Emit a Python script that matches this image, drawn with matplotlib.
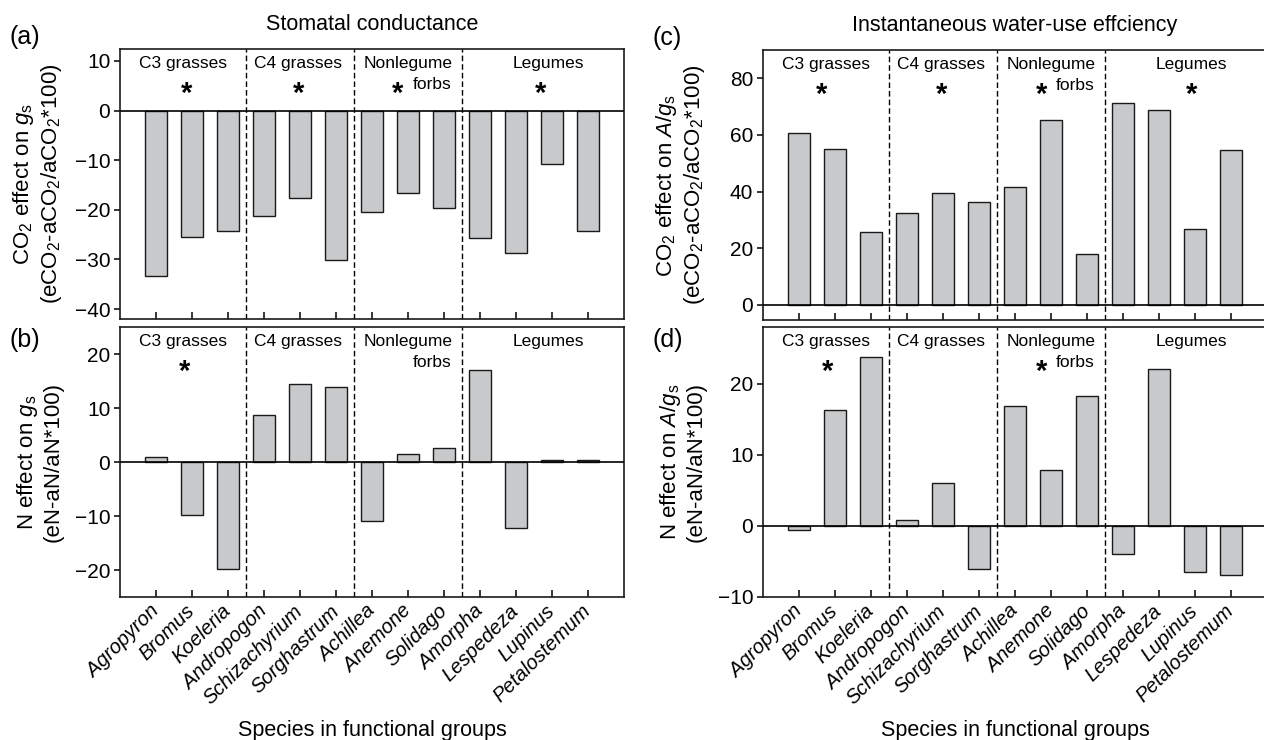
import numpy as np
import matplotlib
matplotlib.use('Agg')
import matplotlib.pyplot as plt

plt.rcParams['font.family'] = ['Liberation Sans', 'DejaVu Sans']
plt.rcParams['mathtext.fontset'] = 'custom'
plt.rcParams['mathtext.rm'] = 'Liberation Sans'
plt.rcParams['mathtext.it'] = 'Liberation Sans:italic'

species = ['Agropyron', 'Bromus', 'Koeleria', 'Andropogon', 'Schizachyrium',
           'Sorghastrum', 'Achillea', 'Anemone', 'Solidago', 'Amorpha',
           'Lespedeza', 'Lupinus', 'Petalostemum']

# CO2 and N effects (%)
co2_gs = [-33.4, -25.5, -24.2, -21.3, -17.7, -30.2, -20.5, -16.6, -19.7,
          -25.7, -28.7, -10.8, -24.2]
n_gs = [1.0, -9.85, -19.8, 8.7, 14.5, 13.9, -11.0, 1.55, 2.65,
        17.0, -12.3, 0.3, 0.4]
co2_wue = [60.6, 55.0, 25.6, 32.6, 39.5, 36.4, 41.6, 65.3, 18.1,
           71.4, 68.9, 26.8, 54.6]
n_wue = [-0.56, 16.3, 23.8, 0.84, 6.0, -6.0, 16.9, 7.85, 18.3,
         -3.9, 22.06, -6.5, -6.9]

groups = ['C3 grasses', 'C4 grasses', 'Nonlegume', 'Legumes']
group_x = [0.75, 3.95, 7.0, 10.9]
group_bounds = [2.5, 5.5, 8.5]

stars_a = [0.86, 3.97, 6.72, 10.67]
stars_b = [0.8]
stars_c = [0.62, 3.97, 6.73, 10.9]
stars_d = [0.8, 6.75]

fig = plt.figure(figsize=(12.64, 7.40), dpi=100)
W, H = 1264., 740.


def make_ax(left, top):
    return fig.add_axes([left / W, 1 - (top + 270) / H, 504 / W, 270 / H])


ax_a = make_ax(120, 49)
ax_b = make_ax(120, 327)
ax_c = make_ax(763, 50)
ax_d = make_ax(763, 327)

x = np.arange(len(species))


def panel(ax, vals, ylim, yticks, stars, ylabel, letter, bottom):
    ax.bar(x, vals, width=0.61, color='#c8c9cb', edgecolor='#1a1a1a',
           linewidth=1.0, zorder=2)
    ax.axhline(0, color='black', lw=1.2, zorder=3)
    for b in group_bounds:
        ax.axvline(b, color='black', lw=1.0, ls=(0, (4, 2.2)), zorder=1)
    ax.set_xlim(-1, 13)
    ax.set_ylim(*ylim)
    ax.set_yticks(yticks)
    ax.set_xticks(x)
    for s in ax.spines.values():
        s.set_linewidth(1.2)
        s.set_color('#1a1a1a')
    ax.tick_params(axis='y', direction='out', length=4, width=1.1,
                   labelsize=15, pad=3)
    ax.tick_params(axis='x', direction='in', length=5, width=1.1,
                   top=False)
    if bottom:
        ax.set_xticklabels(species, rotation=45, ha='right', va='center',
                           rotation_mode='anchor', fontsize=14.5,
                           fontstyle='italic')
        ax.tick_params(axis='x', pad=8)
        ax.set_xlabel('Species in functional groups', fontsize=15.5)
        ax.xaxis.set_label_coords(0.5, -0.455)
    else:
        ax.set_xticklabels([])
    for g, gx in zip(groups, group_x):
        ax.text(gx, 0.945, g, transform=ax.get_xaxis_transform(),
                ha='center', va='center', fontsize=12.5)
    ax.text(8.2, 0.87, 'forbs', transform=ax.get_xaxis_transform(),
            ha='right', va='center', fontsize=12.5)
    for sx in stars:
        ax.annotate('*', (sx, 0.86), xycoords=('data', 'axes fraction'),
                    xytext=(0, -11), textcoords='offset points',
                    ha='center', va='baseline', fontsize=21,
                    fontweight='bold')
    ax.set_ylabel(ylabel, fontsize=16, linespacing=1.15)
    ax.yaxis.set_label_coords(-0.112, 0.5)
    ax.text(-0.22, 1.0 + 12 / 270 if not bottom else 0.95, letter,
            transform=ax.transAxes, ha='left', va='center', fontsize=18)


panel(ax_a, co2_gs, (-42, 12.4), [-40, -30, -20, -10, 0, 10], stars_a,
      'CO$_2$ effect on $g_\\mathrm{s}$\n(eCO$_2$-aCO$_2$/aCO$_2$*100)',
      '(a)', False)
panel(ax_b, n_gs, (-25, 25), [-20, -10, 0, 10, 20], stars_b,
      'N effect on $g_\\mathrm{s}$\n(eN-aN/aN*100)', '(b)', True)
panel(ax_c, co2_wue, (-5.3, 90), [0, 20, 40, 60, 80], stars_c,
      'CO$_2$ effect on $A/g_\\mathrm{s}$\n(eCO$_2$-aCO$_2$/aCO$_2$*100)',
      '(c)', False)
panel(ax_d, n_wue, (-10, 28), [-10, 0, 10, 20], stars_d,
      'N effect on $A/g_\\mathrm{s}$\n(eN-aN/aN*100)', '(d)', True)

ax_a.text(0.5, 1 + 24 / 270, 'Stomatal conductance', transform=ax_a.transAxes,
          ha='center', va='center', fontsize=15.5)
ax_c.text(0.5, 1 + 24 / 270, 'Instantaneous water-use effciency',
          transform=ax_c.transAxes, ha='center', va='center', fontsize=15.5)

fig.savefig('out.png', dpi=100)
